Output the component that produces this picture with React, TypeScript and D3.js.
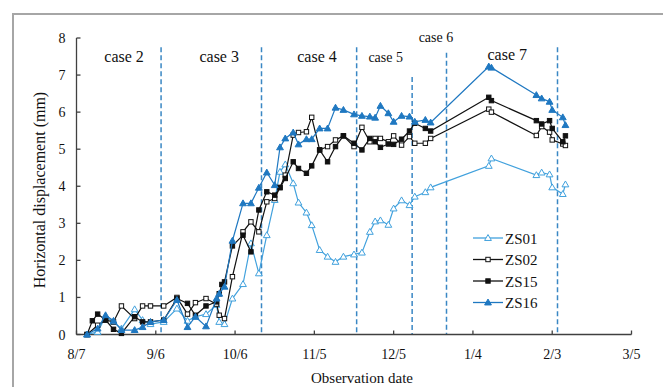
import React, { useEffect, useRef } from 'react'
import * as d3 from 'd3'

// observation days, counted from 8/7
const obsDays = [4, 6, 8, 11, 14, 17, 22, 25, 28, 33, 38, 42, 45, 49, 53, 54, 55, 56, 59, 63, 66, 69, 72, 75, 77, 79, 82, 84, 87, 89, 92, 95, 98, 101, 105, 108, 111, 113, 115, 118, 120, 123, 126, 128, 132, 134, 156, 157, 174, 176, 179, 180, 184, 185]

const zs01 = [0, null, 0.07, 0.48, 0.34, 0.16, 0.68, 0.39, 0.28, 0.34, 0.7, 0.37, 0.48, 0.55, 0.8, 0.34, null, 0.28, 0.97, 1.36, 2.46, 1.65, 2.68, 3.63, 4.39, 4.59, 4.08, 3.56, 3.29, 2.95, 2.28, 2.1, 1.96, 2.1, 2.16, 2.21, 2.77, 3.05, 3.08, 2.96, 3.4, 3.62, 3.49, 3.72, 3.84, 3.97, 4.55, 4.75, 4.3, 4.37, 4.32, 3.97, 3.79, 4.05]
const zs02 = [0, null, 0.25, 0.39, 0.34, 0.77, 0.43, 0.77, 0.77, 0.77, 1.0, 0.55, 0.86, 0.97, 0.82, 0.52, null, 0.43, 1.56, 2.77, 3.04, 2.77, 3.58, 3.67, 3.97, 4.3, 5.38, 5.45, 5.47, 5.86, 4.98, 5.07, 5.25, 5.36, 5.07, 5.59, 5.2, 5.29, 5.29, 5.2, 5.36, 5.11, 5.34, 5.16, 5.16, 5.29, 6.08, 6.0, 5.37, 5.61, 5.46, 5.25, 5.14, 5.1]
const zs15 = [0, 0.37, 0.55, 0.39, 0.14, 0.03, 0.48, 0.34, 0.34, 0.39, 0.97, 0.84, 0.52, 0.77, 0.88, 1.1, 1.35, 1.42, 2.39, 2.68, 2.23, 3.36, 3.85, 3.76, 3.96, 4.21, 4.66, 4.48, 4.35, 4.55, 4.98, 4.66, 5.07, 5.36, 5.16, 4.98, 5.29, 5.2, 5.05, 5.14, 5.13, 5.27, 5.49, 5.7, 5.56, 5.49, 6.4, 6.31, 5.77, 5.68, 5.77, 5.56, 5.2, 5.36]
const zs16 = [0, null, 0.16, 0.52, 0.37, 0.12, 0.12, 0.2, 0.34, 0.39, 0.93, 0.2, 0.48, 0.22, 0.97, 1.1, null, 1.29, 2.53, 3.54, 3.54, 3.96, 4.37, 4.03, 5.05, 5.29, 5.45, 5.13, 5.27, 5.27, 5.56, 5.56, 6.12, 6.06, 5.94, 5.9, 5.88, 5.85, 6.17, 5.97, 5.74, 5.9, 5.88, 5.74, 5.79, 5.72, 7.23, 7.2, 6.46, 6.37, 6.28, 6.06, 5.86, 5.65]

const xTickDays = [0, 30, 60, 90, 120, 150, 180, 210]
const xTickLabels = ['8/7', '9/6', '10/6', '11/5', '12/5', '1/4', '2/3', '3/5']
const yTicks = [0, 1, 2, 3, 4, 5, 6, 7, 8]

// case boundaries (days) and the top of each dashed line (mm)
const caseLineDays = [32, 70, 106, 127, 140, 182]
const caseLineTops = [7.75, 7.75, 7.75, 6.95, 7.6, 7.75]
const caseNames = ['case 2', 'case 3', 'case 4', 'case 5', 'case 6', 'case 7']
const caseLabelDays = [18, 54, 91, 117, 136, 163]
const caseLabelVals = [7.35, 7.35, 7.35, 7.35, 7.9, 7.4]

const seriesNames = ['ZS01', 'ZS02', 'ZS15', 'ZS16']

export default function App() {
  const ref = useRef(null)

  useEffect(() => {
    const svg = d3.select(ref.current)
    svg.selectAll('*').remove()

    const x = d3.scaleLinear().domain([0, 210]).range([76.5, 631.5])
    const y = d3.scaleLinear().domain([0, 8]).range([334.5, 38])
    const font = "'Liberation Serif', 'Times New Roman', serif"

    // outer frame
    svg.append('rect')
      .attr('x', 13).attr('y', 14)
      .attr('width', 720).attr('height', 420)
      .attr('fill', 'white')
      .attr('stroke', '#a6a6a6')
      .attr('stroke-width', 2)

    // dashed case lines
    caseLineDays.forEach((d, i) => {
      svg.append('line')
        .attr('x1', x(d)).attr('x2', x(d))
        .attr('y1', y(caseLineTops[i])).attr('y2', y(0))
        .attr('stroke', '#3a87c4')
        .attr('stroke-width', 1.5)
        .attr('stroke-dasharray', '5,3')
    })

    caseNames.forEach((c, i) => {
      const small = i === 3 || i === 4
      svg.append('text')
        .attr('x', x(caseLabelDays[i])).attr('y', y(caseLabelVals[i]))
        .attr('text-anchor', 'middle')
        .attr('font-family', font)
        .attr('font-size', small ? 14 : 16)
        .attr('fill', '#111')
        .text(c)
    })

    // axes
    const ax = svg.append('g').attr('stroke', '#404040').attr('stroke-width', 1.3)
    ax.append('line').attr('x1', x(0)).attr('x2', x(210)).attr('y1', y(0)).attr('y2', y(0))
    ax.append('line').attr('x1', x(0)).attr('x2', x(0)).attr('y1', y(0)).attr('y2', y(8))
    xTickDays.forEach(d => {
      ax.append('line').attr('x1', x(d)).attr('x2', x(d)).attr('y1', y(0)).attr('y2', y(0) - 4)
    })
    yTicks.forEach(v => {
      ax.append('line').attr('x1', x(0)).attr('x2', x(0) + 4).attr('y1', y(v)).attr('y2', y(v))
    })

    xTickDays.forEach((d, i) => {
      svg.append('text')
        .attr('x', x(d)).attr('y', y(0) + 24)
        .attr('text-anchor', 'middle')
        .attr('font-family', font).attr('font-size', 14)
        .attr('fill', '#111')
        .text(xTickLabels[i])
    })
    yTicks.forEach(v => {
      svg.append('text')
        .attr('x', x(0) - 11).attr('y', y(v) + 5)
        .attr('text-anchor', 'end')
        .attr('font-family', font).attr('font-size', 14)
        .attr('fill', '#111')
        .text(v)
    })

    svg.append('text')
      .attr('transform', 'translate(45,190) rotate(-90)')
      .attr('text-anchor', 'middle')
      .attr('font-family', font).attr('font-size', 16)
      .attr('fill', '#111')
      .text('Horizontal  displacement  (mm)')

    svg.append('text')
      .attr('x', 362).attr('y', 383)
      .attr('text-anchor', 'middle')
      .attr('font-family', font).attr('font-size', 15)
      .attr('fill', '#111')
      .text('Observation date')

    const series = [
      { values: zs01, color: '#41a1dd', shape: 'tri', fill: 'white' },
      { values: zs02, color: '#111', shape: 'sq', fill: 'white' },
      { values: zs15, color: '#111', shape: 'sq', fill: '#111' },
      { values: zs16, color: '#1f78c1', shape: 'tri', fill: '#1f78c1' },
    ]

    const line = d3.line().x(d => x(d[0])).y(d => y(d[1]))
    const tri = d3.symbol().type(d3.symbolTriangle).size(20)

    function marker(g, s, cx, cy) {
      if (s.shape === 'tri') {
        g.append('path').attr('d', tri())
          .attr('transform', `translate(${cx},${cy + 0.5})`)
          .attr('fill', s.fill).attr('stroke', s.color).attr('stroke-width', 1)
      } else {
        g.append('rect')
          .attr('x', cx - 2.2).attr('y', cy - 2.2)
          .attr('width', 4.4).attr('height', 4.4)
          .attr('fill', s.fill).attr('stroke', s.color).attr('stroke-width', 1)
      }
    }

    series.forEach(s => {
      const pts = obsDays.map((d, i) => [d, s.values[i]]).filter(p => p[1] != null)
      const g = svg.append('g')
      g.append('path').attr('d', line(pts))
        .attr('fill', 'none').attr('stroke', s.color).attr('stroke-width', 1.2)
      pts.forEach(p => marker(g, s, x(p[0]), y(p[1])))
    })

    // legend
    series.forEach((s, i) => {
      const ly = 238 + i * 21.5
      const g = svg.append('g')
      g.append('line').attr('x1', 473).attr('x2', 503).attr('y1', ly).attr('y2', ly)
        .attr('stroke', s.color).attr('stroke-width', 1.3)
      marker(g, s, 488, ly)
      g.append('text')
        .attr('x', 505).attr('y', ly + 5.5)
        .attr('font-family', font).attr('font-size', 15)
        .attr('fill', '#111')
        .text(seriesNames[i])
    })
  }, [])

  return (
    <svg ref={ref} width={663} height={387}
      style={{ position: 'absolute', left: 0, top: 0, background: 'white' }} />
  )
}
